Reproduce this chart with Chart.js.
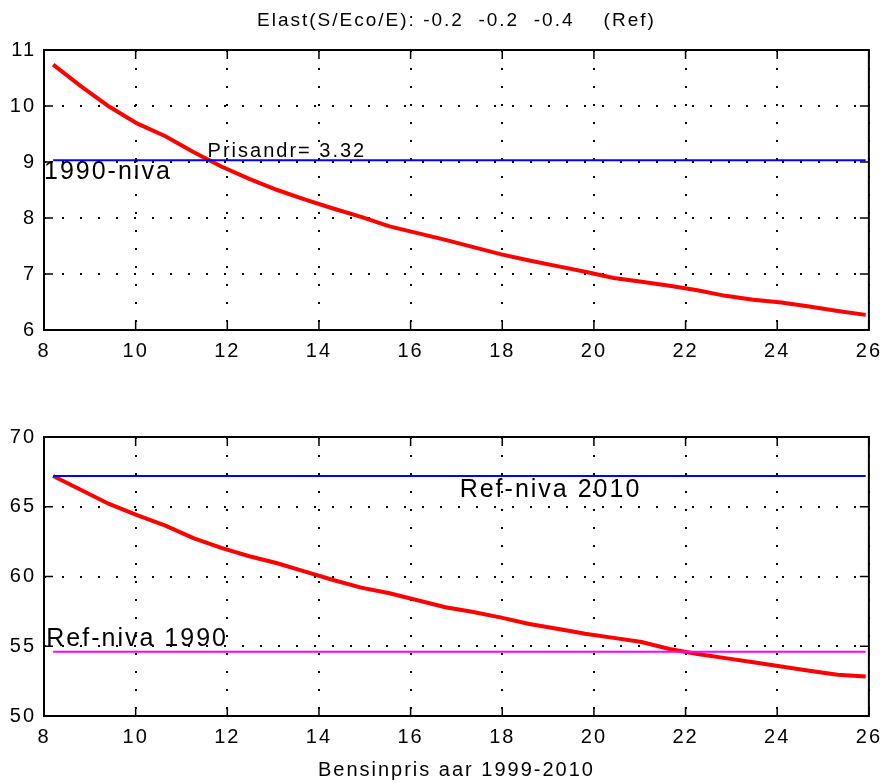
<!DOCTYPE html>
<html>
<head>
<meta charset="utf-8">
<script src="https://cdn.jsdelivr.net/npm/chart.js@4.4.0/dist/chart.umd.min.js"></script>
<style>
  body { margin: 0; background: #fff; }
  #wrap { position: relative; width: 891px; height: 783px; }
  canvas { position: absolute; left: 0; }
  #top-chart { top: 0; }
  #bottom-chart { top: 380px; }
</style>
</head>
<body>
<div id="wrap">
  <canvas id="top-chart" width="891" height="380"></canvas>
  <canvas id="bottom-chart" width="891" height="403"></canvas>
</div>
<script>
// Bensinpris (x) shared by both panels
const prices = [8.20, 8.81, 9.42, 10.03, 10.65, 11.26, 11.87, 12.48, 13.09, 13.70,
  14.31, 14.92, 15.54, 16.15, 16.76, 17.37, 17.98, 18.59, 19.20, 19.81,
  20.43, 21.04, 21.65, 22.26, 22.87, 23.48, 24.09, 24.70, 25.32, 25.93];

// Top panel curve
const topValues = [10.74, 10.35, 9.99, 9.69, 9.46, 9.18, 8.92, 8.70, 8.50, 8.33,
  8.17, 8.02, 7.85, 7.73, 7.61, 7.48, 7.35, 7.24, 7.14, 7.04,
  6.93, 6.86, 6.79, 6.71, 6.61, 6.54, 6.49, 6.42, 6.34, 6.27];
const level1990Top = 9.03;

// Bottom panel curve
const bottomValues = [67.2, 66.2, 65.2, 64.4, 63.65, 62.75, 62.05, 61.45, 60.95, 60.35,
  59.75, 59.2, 58.8, 58.3, 57.8, 57.45, 57.05, 56.6, 56.25, 55.9,
  55.6, 55.3, 54.8, 54.45, 54.15, 53.85, 53.55, 53.25, 52.95, 52.83];
const refLevel2010 = 67.2;
const refLevel1990 = 54.6;

// Tick labels
const xTickValues = [8, 10, 12, 14, 16, 18, 20, 22, 24, 26];
const topYTicks = [6, 7, 8, 9, 10, 11];
const bottomYTicks = [50, 55, 60, 65, 70];

const FONT = '"Liberation Sans", Arial, sans-serif';
Chart.defaults.font.family = FONT;
Chart.defaults.font.size = 20;
Chart.defaults.color = "#000";

// helpers
const toPoints = (xs, ys) => xs.map((x, i) => ({ x: x, y: ys[i] }));
const flatLine = (xs, level) => [{ x: xs[0], y: level }, { x: xs[xs.length - 1], y: level }];

// matlab-ish wide text
const spacingPlugin = {
  id: "spacing",
  beforeLayout(chart) { chart.ctx.letterSpacing = "2px"; },
  beforeDraw(chart) { chart.ctx.letterSpacing = "2px"; },
};

// box around the axes + inward ticks
const framePlugin = {
  id: "frame",
  afterDatasetsDraw(chart) {
    const ctx = chart.ctx;
    const a = chart.chartArea;
    const xs = chart.scales.x;
    const ys = chart.scales.y;
    const len = 9;
    ctx.save();
    ctx.strokeStyle = "#000";
    ctx.lineWidth = 1.5;
    ctx.beginPath();
    xs.ticks.forEach((t) => {
      const px = xs.getPixelForValue(t.value);
      ctx.moveTo(px, a.bottom); ctx.lineTo(px, a.bottom - len);
      ctx.moveTo(px, a.top); ctx.lineTo(px, a.top + len);
    });
    ys.ticks.forEach((t) => {
      const py = ys.getPixelForValue(t.value);
      ctx.moveTo(a.left, py); ctx.lineTo(a.left + len, py);
      ctx.moveTo(a.right, py); ctx.lineTo(a.right - len, py);
    });
    ctx.stroke();
    ctx.lineWidth = 2;
    ctx.strokeRect(a.left, a.top, a.right - a.left, a.bottom - a.top);
    ctx.restore();
  },
};

// text labels placed on the data scales
const notesPlugin = {
  id: "notes",
  afterDraw(chart, args, opts) {
    const ctx = chart.ctx;
    ctx.save();
    ctx.fillStyle = "#000";
    ctx.textAlign = "left";
    ctx.textBaseline = "alphabetic";
    (opts.items || []).forEach((n) => {
      ctx.font = n.size + "px " + FONT;
      ctx.letterSpacing = n.spacing + "px";
      const px = chart.scales.x.getPixelForValue(n.x);
      const py = chart.scales.y.getPixelForValue(n.y) + n.dy;
      ctx.fillText(n.text, px, py);
    });
    ctx.restore();
  },
};

function makeOptions(cfg) {
  return {
    responsive: false,
    animation: false,
    events: [],
    layout: { padding: { top: cfg.padTop, right: 16, left: 0, bottom: 0 } },
    plugins: {
      legend: { display: false },
      tooltip: { enabled: false },
      title: cfg.title
        ? {
            display: true,
            text: cfg.title,
            fullSize: false,
            font: { size: 19, weight: "normal" },
            color: "#000",
            padding: { top: 9, bottom: 18.2 },
          }
        : { display: false },
      notes: { items: cfg.notes },
    },
    scales: {
      x: {
        type: "linear",
        min: 8,
        max: 26,
        afterBuildTicks: (s) => { s.ticks = xTickValues.map((v) => ({ value: v })); },
        afterFit: (s) => { s.height = cfg.xHeight; },
        ticks: { padding: 9, font: { size: 20 }, color: "#000" },
        grid: { color: "#000", lineWidth: 2, drawTicks: false },
        border: { display: false, dash: [2, 16] },
        title: cfg.xTitle
          ? { display: true, text: cfg.xTitle, font: { size: 20 }, color: "#000", padding: { top: 0, bottom: 1 } }
          : { display: false },
      },
      y: {
        type: "linear",
        min: cfg.yMin,
        max: cfg.yMax,
        afterBuildTicks: (s) => { s.ticks = cfg.yTicks.map((v) => ({ value: v })); },
        afterFit: (s) => { s.width = 44; },
        ticks: { padding: 8, font: { size: 20 }, color: "#000" },
        grid: { color: "#000", lineWidth: 2, drawTicks: false },
        border: { display: false, dash: [2, 16] },
      },
    },
  };
}

const lineStyle = (color, width) => ({
  borderColor: color,
  backgroundColor: color,
  borderWidth: width,
  pointRadius: 0,
  tension: 0,
  fill: false,
});

// Top panel
new Chart(document.getElementById("top-chart").getContext("2d"), {
  type: "line",
  data: {
    datasets: [
      Object.assign({ label: "1990-niva", data: flatLine(prices, level1990Top) }, lineStyle("#0000ff", 2)),
      Object.assign({ label: "Top", data: toPoints(prices, topValues) }, lineStyle("#ff0000", 4)),
    ],
  },
  options: makeOptions({
    padTop: 0,
    xHeight: 50,
    yMin: 6,
    yMax: 11,
    yTicks: topYTicks,
    title: "Elast(S/Eco/E): -0.2  -0.2  -0.4    (Ref)",
    notes: [
      { text: "Prisandr= 3.32", x: 11.57, y: level1990Top, dy: -3, size: 20, spacing: 2 },
      { text: "1990-niva", x: 8, y: level1990Top, dy: 19, size: 25, spacing: 2 },
    ],
  }),
  plugins: [spacingPlugin, framePlugin, notesPlugin],
});

// Bottom panel
new Chart(document.getElementById("bottom-chart").getContext("2d"), {
  type: "line",
  data: {
    datasets: [
      Object.assign({ label: "Ref-niva 2010", data: flatLine(prices, refLevel2010) }, lineStyle("#0000ff", 2)),
      Object.assign({ label: "Ref-niva 1990", data: flatLine(prices, refLevel1990) }, lineStyle("#ff00ff", 2)),
      Object.assign({ label: "Bottom", data: toPoints(prices, bottomValues) }, lineStyle("#ff0000", 4)),
    ],
  },
  options: makeOptions({
    padTop: 57,
    xHeight: 67,
    yMin: 50,
    yMax: 70,
    yTicks: bottomYTicks,
    xTitle: "Bensinpris aar 1999-2010",
    notes: [
      { text: "Ref-niva 2010", x: 17.07, y: refLevel2010, dy: 21, size: 25, spacing: 2 },
      { text: "Ref-niva 1990", x: 8.05, y: refLevel1990, dy: -6, size: 25, spacing: 2 },
    ],
  }),
  plugins: [spacingPlugin, framePlugin, notesPlugin],
});
</script>
</body>
</html>
